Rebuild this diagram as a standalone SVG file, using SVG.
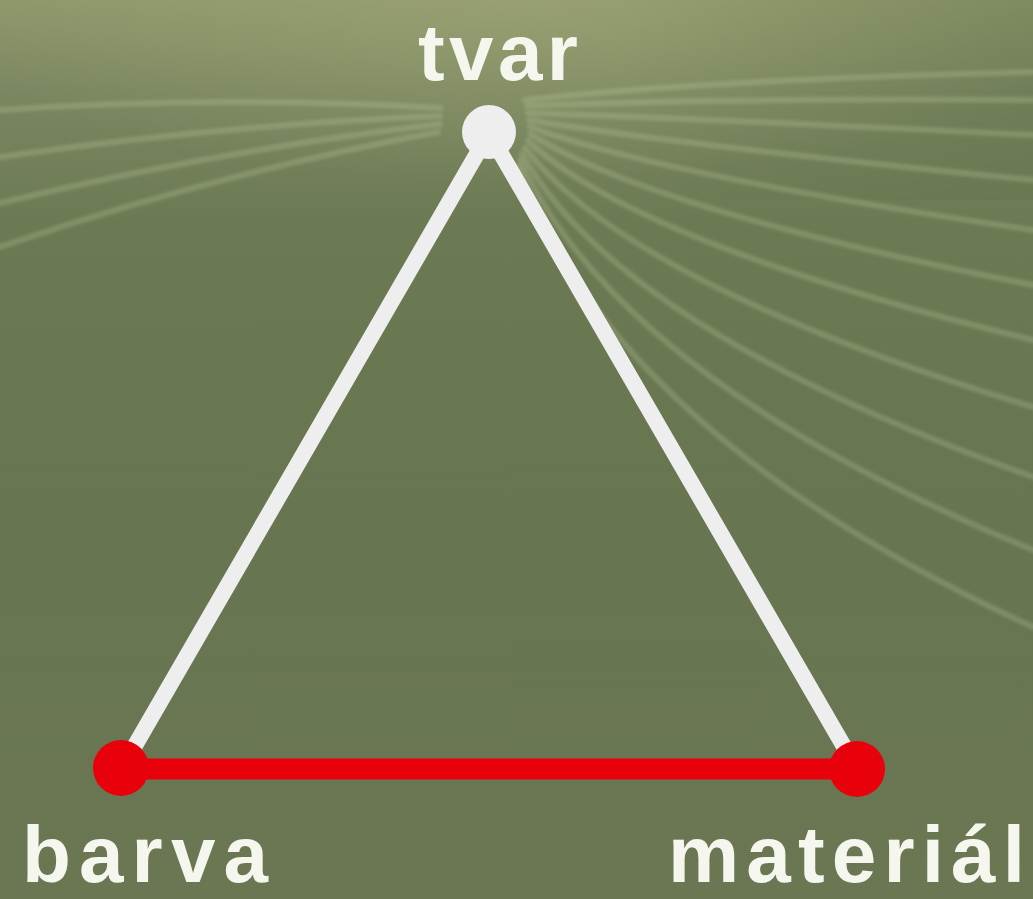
<svg xmlns="http://www.w3.org/2000/svg" width="1033" height="899" viewBox="0 0 1033 899">
  <defs>
    <linearGradient id="bg" x1="0" y1="0" x2="0" y2="1">
      <stop offset="0" stop-color="#8e976c"/>
      <stop offset="0.1" stop-color="#7a8660"/>
      <stop offset="0.25" stop-color="#6c7a53"/>
      <stop offset="0.6" stop-color="#677550"/>
      <stop offset="1" stop-color="#6b7753"/>
    </linearGradient>
    <radialGradient id="glow" cx="0.5" cy="0" r="0.6">
      <stop offset="0" stop-color="#9ea676" stop-opacity="0.6"/>
      <stop offset="1" stop-color="#9ea676" stop-opacity="0"/>
    </radialGradient>
    <linearGradient id="rightDark" x1="0" y1="0" x2="1" y2="0">
      <stop offset="0.6" stop-color="#5f7048" stop-opacity="0"/>
      <stop offset="1" stop-color="#5f7048" stop-opacity="0.35"/>
    </linearGradient>
    <filter id="soft" x="-5%" y="-5%" width="110%" height="110%">
      <feGaussianBlur stdDeviation="1.6"/>
    </filter>
  </defs>
  <style>
    .streak { fill: none; stroke: #c8d4a8; stroke-opacity: 0.24; stroke-width: 6; stroke-linecap: round; }
    .edge-white { stroke: #eeeeee; stroke-width: 16; stroke-linecap: round; }
    .edge-red { stroke: #e8000b; stroke-width: 21; stroke-linecap: round; }
    .label { font-family: "Liberation Sans", Arial, sans-serif; font-weight: bold; font-size: 80px; fill: #f5f7ee; }
  </style>

  <rect x="0" y="0" width="1033" height="899" fill="url(#bg)"/>
  <rect x="0" y="0" width="1033" height="300" fill="url(#glow)"/>
  <rect x="0" y="0" width="1033" height="200" fill="url(#rightDark)"/>

  <g id="background-streaks" filter="url(#soft)">
    <path class="streak" d="M525,100 Q700,80 1033,72"/>
    <path class="streak" d="M527,106 Q700,98 1033,100"/>
    <path class="streak" d="M528,113 Q690,118 1033,135"/>
    <path class="streak" d="M529,120 Q680,145 1033,180"/>
    <path class="streak" d="M530,127 Q660,175 1033,230"/>
    <path class="streak" d="M530,134 Q650,210 1033,285"/>
    <path class="streak" d="M528,141 Q640,245 1033,340"/>
    <path class="streak" d="M525,148 Q630,285 1033,407"/>
    <path class="streak" d="M522,154 Q620,330 1033,477"/>
    <path class="streak" d="M520,160 Q620,380 1033,550"/>
    <path class="streak" d="M518,166 Q615,435 1033,627"/>
    <path class="streak" d="M440,108 Q220,95 0,110"/>
    <path class="streak" d="M440,116 Q220,125 0,157"/>
    <path class="streak" d="M440,124 Q220,150 0,203"/>
    <path class="streak" d="M438,132 Q210,175 0,247"/>
  </g>

  <g id="connectors">
    <line class="edge-white" x1="489" y1="133" x2="122" y2="768"/>
    <line class="edge-white" x1="489" y1="133" x2="857" y2="769"/>
    <line class="edge-red" x1="122" y1="769" x2="857" y2="769"/>
  </g>

  <g id="node-tvar">
    <circle cx="489" cy="132" r="27" fill="#eeeeee"/>
    <text class="label" x="418" y="80" textLength="160" lengthAdjust="spacing">tvar</text>
  </g>
  <g id="node-barva">
    <circle cx="121" cy="768" r="28" fill="#e8000b"/>
    <text class="label" x="22" y="882" textLength="246" lengthAdjust="spacing">barva</text>
  </g>
  <g id="node-material">
    <circle cx="857" cy="769" r="28" fill="#e8000b"/>
    <text class="label" x="668" y="882" textLength="357" lengthAdjust="spacing">materiál</text>
  </g>
</svg>
